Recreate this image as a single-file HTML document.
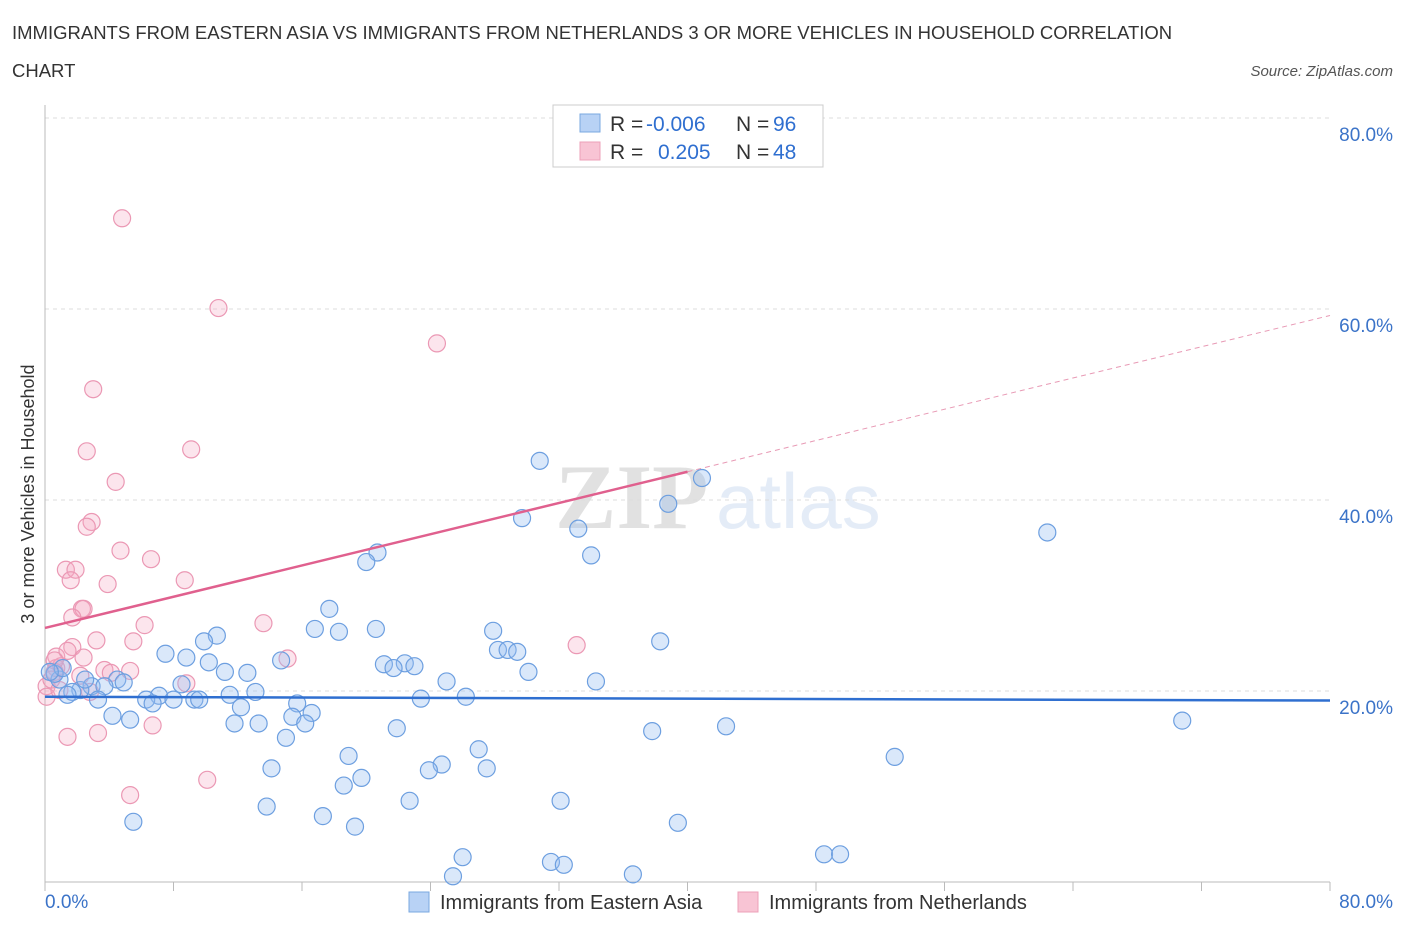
<!DOCTYPE html>
<html><head><meta charset="utf-8"><style>
body{margin:0;background:#fff;font-family:"Liberation Sans",sans-serif;}
svg{display:block}
</style></head><body>
<svg id="chart" width="1406" height="930" xmlns="http://www.w3.org/2000/svg">
<text x="12" y="39" font-size="18.5" fill="#333">IMMIGRANTS FROM EASTERN ASIA VS IMMIGRANTS FROM NETHERLANDS 3 OR MORE VEHICLES IN HOUSEHOLD CORRELATION</text>
<text x="12" y="77" font-size="18.5" fill="#333">CHART</text>
<text x="1393" y="76" font-size="15" font-style="italic" fill="#555" text-anchor="end">Source: ZipAtlas.com</text>
<g opacity="0.13">
<text x="555" y="528" font-size="92" font-family="Liberation Serif,serif" font-weight="bold" fill="#222">ZIP</text>
<text x="716" y="528" font-size="78" fill="#3b73c8">atlas</text>
</g>
<g id="grid"></g>
<g id="axes"></g>
<g id="pts"></g>
<g id="trend"></g>
<g>
<rect x="553" y="105" width="270" height="62" fill="#fff" stroke="#ccc"/>
<rect x="580" y="114" width="20" height="18" fill="#b8d2f5" stroke="#7aa8e0"/>
<rect x="580" y="142" width="20" height="18" fill="#f8c4d4" stroke="#eda0b8"/>
<text x="610" y="131" font-size="21" fill="#333">R = <tspan x="646" fill="#2f6fd0">-0.006</tspan><tspan x="736">N = </tspan><tspan x="773" fill="#2f6fd0">96</tspan></text>
<text x="610" y="159" font-size="21" fill="#333">R = <tspan x="658" fill="#2f6fd0">0.205</tspan><tspan x="736">N = </tspan><tspan x="773" fill="#2f6fd0">48</tspan></text>
</g>
<g>
<rect x="409" y="892" width="20" height="20" fill="#b8d2f5" stroke="#7aa8e0"/>
<text x="440" y="909" font-size="20" fill="#333">Immigrants from Eastern Asia</text>
<rect x="738" y="892" width="20" height="20" fill="#f8c4d4" stroke="#eda0b8"/>
<text x="769" y="909" font-size="20" fill="#333">Immigrants from Netherlands</text>
</g>
<text transform="translate(34,494) rotate(-90)" font-size="18" fill="#333" text-anchor="middle">3 or more Vehicles in Household</text>
</svg>
<script>
const blueX=[30.8,40.9,38.8,29.7,33.2,62.4,20.7,20.0,34.0,17.7,16.8,18.3,20.6,27.9,38.3,10.7,9.9,7.5,8.8,10.2,28.2,28.8,29.4,14.7,21.1,22.4,23.0,21.7,30.1,25.0,34.3,11.2,12.6,4.5,4.9,2.9,3.7,2.2,1.7,0.9,0.6,1.1,0.3,8.5,7.1,6.3,6.7,8.0,9.3,9.6,11.5,13.1,15.7,23.4,26.2,12.2,4.2,5.3,11.8,13.3,15.4,16.6,16.2,21.9,37.8,42.4,70.8,15.0,18.9,27.0,52.9,14.1,24.7,23.9,27.5,19.7,18.6,13.8,22.7,32.1,17.3,5.5,39.4,19.3,26.0,48.5,49.5,31.5,32.3,36.6,25.4,3.3,1.4,2.5];
const blueY=[44.1,42.3,39.6,38.1,37.0,36.6,34.5,33.5,34.2,28.6,26.5,26.2,26.5,26.3,25.2,25.8,25.2,23.9,23.5,23.0,24.3,24.3,24.1,23.2,22.8,22.9,22.6,22.4,22.0,21.0,21.0,22.0,21.9,21.2,20.9,20.5,20.5,20.1,19.9,21.2,21.8,22.4,22.0,20.7,19.5,19.1,18.7,19.1,19.1,19.1,19.6,19.9,18.7,19.2,19.4,18.3,17.4,17.0,16.6,16.6,17.3,17.7,16.6,16.1,15.8,16.3,16.9,15.1,13.2,13.9,13.1,11.9,12.3,11.7,11.9,10.9,10.1,7.9,8.5,8.5,6.9,6.3,6.2,5.8,2.6,2.9,2.9,2.1,1.8,0.8,0.6,19.1,19.6,21.2];
const pinkX=[4.8,10.8,24.4,3.0,2.6,9.1,4.4,2.9,2.6,4.7,6.6,1.3,1.9,1.6,3.9,8.7,2.3,2.4,1.7,6.2,13.6,3.2,5.5,1.7,33.1,0.7,1.4,0.7,2.4,15.1,3.7,4.1,5.3,1.0,0.6,0.1,0.4,8.8,2.2,2.8,0.1,1.4,3.3,6.7,5.3,10.1,0.6,0.9];
const pinkY=[69.5,60.1,56.4,51.6,45.1,45.3,41.9,37.7,37.2,34.7,33.8,32.7,32.7,31.6,31.2,31.6,28.6,28.6,27.7,26.9,27.1,25.3,25.2,24.6,24.8,23.6,24.2,22.4,23.5,23.4,22.2,21.9,22.1,22.6,22.0,20.5,21.2,20.8,21.6,19.9,19.4,15.2,15.6,16.4,9.1,10.7,23.2,20.1];
const blueTrend=[19.4,-0.005];
const pinkTrend=[26.6,0.409];
const pinkSolidEnd=40;
const yTicks=[20,40,60,80];
const xTickVals=[0,8,16,24,32,40,48,56,64,72,80];

const NS="http://www.w3.org/2000/svg";
const X0=45,X1=1330,Y0=882,Y80=118;
const sx=v=>X0+(v/80)*(X1-X0);
const sy=v=>Y0-(v/80)*(Y0-Y80);
function mk(t,a,p){const e=document.createElementNS(NS,t);for(const k in a)e.setAttribute(k,a[k]);p.appendChild(e);return e;}
const grid=document.getElementById('grid'),axes=document.getElementById('axes'),pts=document.getElementById('pts'),tr=document.getElementById('trend');
yTicks.forEach(v=>{
  const l=mk('line',{x1:X0,x2:X1,y1:sy(v),y2:sy(v),stroke:'#ddd','stroke-dasharray':'4,4'},grid);
  
  
  const t=mk('text',{x:1393,y:sy(v)+23,'font-size':19,fill:'#3b73c8','text-anchor':'end'},axes);
  t.textContent=v.toFixed(1)+'%';
  
  
});
mk('line',{x1:X0,x2:X0,y1:105,y2:Y0,stroke:'#bbb'},axes);
mk('line',{x1:X0,x2:X1,y1:Y0,y2:Y0,stroke:'#bbb'},axes);
xTickVals.forEach(v=>{
  const l=mk('line',{x1:sx(v),x2:sx(v),y1:Y0,y2:Y0+9,stroke:'#bbb'},axes);
  
  
});
const xl=mk('text',{x:45,y:908,'font-size':19,fill:'#3b73c8'},axes);xl.textContent='0.0%';


const xr=mk('text',{x:1393,y:908,'font-size':19,fill:'#3b73c8','text-anchor':'end'},axes);xr.textContent='80.0%';


pinkX.forEach((x,i)=>{
  const c=mk('circle',{cx:sx(x),cy:sy(pinkY[i]),r:8.5,fill:'rgba(245,170,195,0.3)',stroke:'#eb98b4','stroke-width':1.2},pts);
  
  
});
blueX.forEach((x,i)=>{
  const c=mk('circle',{cx:sx(x),cy:sy(blueY[i]),r:8.5,fill:'rgba(150,190,240,0.35)',stroke:'#6d9fe0','stroke-width':1.2},pts);
  
  
});
const bl=mk('line',{x1:sx(0),x2:sx(80),y1:sy(blueTrend[0]),y2:sy(blueTrend[0]+blueTrend[1]*80),stroke:'#2f6fd0','stroke-width':2.5},tr);


const pf=v=>pinkTrend[0]+pinkTrend[1]*v;
const ps=mk('line',{x1:sx(0),x2:sx(pinkSolidEnd),y1:sy(pf(0)),y2:sy(pf(pinkSolidEnd)),stroke:'#e0608e','stroke-width':2.5},tr);


const pd=mk('line',{x1:sx(pinkSolidEnd),x2:sx(80),y1:sy(pf(pinkSolidEnd)),y2:sy(pf(80)),stroke:'#e89ab5','stroke-width':1,'stroke-dasharray':'5,4'},tr);


</script>
</body></html>
